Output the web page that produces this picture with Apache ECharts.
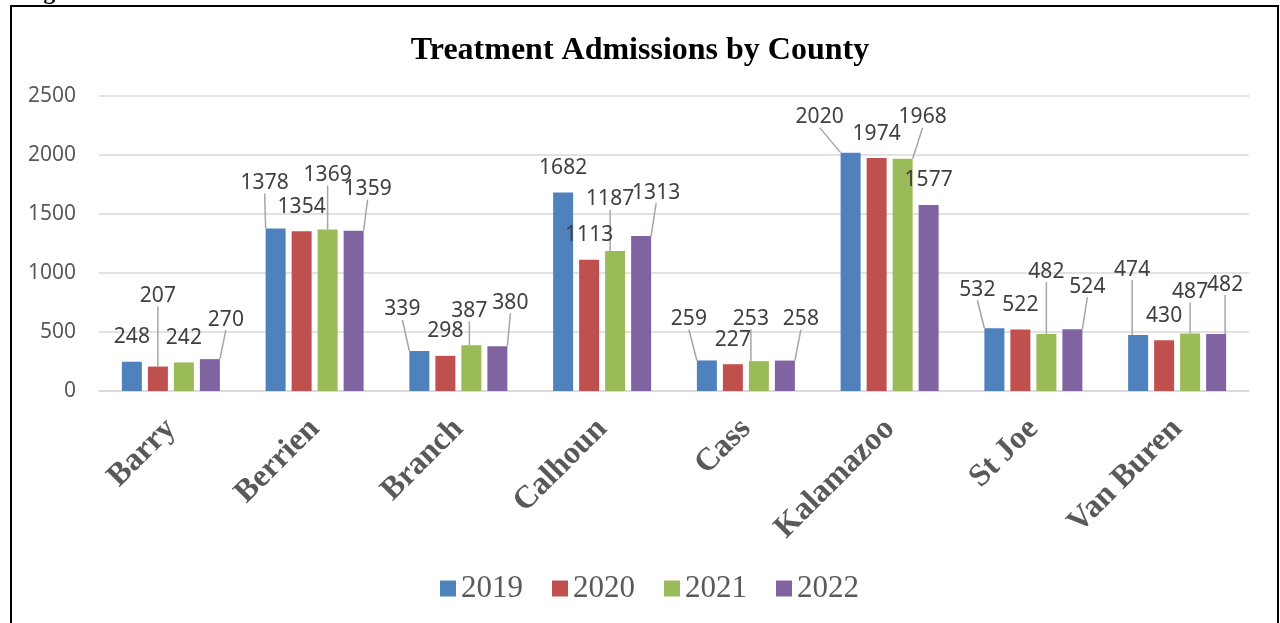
<!DOCTYPE html>
<html>
<head>
<meta charset="utf-8">
<script src="https://cdn.jsdelivr.net/npm/echarts@6/dist/echarts.min.js"></script>
<style>
html,body{margin:0;padding:0;background:#fff;}
#chart{width:1280px;height:623px;}
</style>
</head>
<body>
<div id="chart"></div>
<script>
var categories = ['Barry','Berrien','Branch','Calhoun','Cass','Kalamazoo','St Joe','Van Buren'];
var seriesNames = ['2019','2020','2021','2022'];
var y2019 = [248,1378,339,1682,259,2020,532,474];
var y2020 = [207,1354,298,1113,227,1974,522,430];
var y2021 = [242,1369,387,1187,253,1968,482,487];
var y2022 = [270,1359,380,1313,258,1577,524,482];
var yTicks = [0,500,1000,1500,2000,2500];

// label nudges (pixels) relative to the default "top" label position
var off2019 = [[0,0],[-11,-21],[-17,-17],[0,0],[-18,-17],[-31,-11],[-17,-14],[-6,-41]];
var off2020 = [[0,-46],[0,0],[0,0],[0,0],[0,0],[0,0],[0,0],[0,0]];
var off2021 = [[0,0],[0,-30],[-2,-10],[-5,-27],[-8,-18],[20,-17],[0,-38],[0,-17]];
var off2022 = [[16,-15],[14,-17],[13,-19],[15,-19],[16,-17],[0,0],[15,-18],[9,-25]];

var colors = ['#4f81bd','#c0504d','#9bbb59','#8064a2'];
var allValues = [y2019,y2020,y2021,y2022];
var allOffsets = [off2019,off2020,off2021,off2022];

var chart = echarts.init(document.getElementById('chart'), null, {renderer:'canvas'});

var series = allValues.map(function(vals, si){
  var offs = allOffsets[si];
  return {
    name: seriesNames[si],
    type: 'bar',
    barWidth: 20,
    barGap: '30%',
    itemStyle: {color: colors[si]},
    data: vals.map(function(v, i){
      var moved = offs[i][0] !== 0 || offs[i][1] !== 0;
      return {value: v, labelLine: {show: moved}};
    }),
    label: {
      show: true,
      position: 'top',
      distance: 14,
      color: '#404040',
      fontSize: 21,
      fontFamily: "'Noto Sans', 'Open Sans', sans-serif"
    },
    labelLine: {
      show: true,
      lineStyle: {color: '#a6a6a6', width: 1.5}
    },
    labelLayout: function(params){
      var o = offs[params.dataIndex];
      return {dx: o[0], dy: o[1]};
    }
  };
});

var option = {
  animation: false,
  backgroundColor: '#ffffff',
  title: {
    text: 'Treatment Admissions by County',
    left: 'center',
    top: 30,
    textStyle: {
      fontFamily: "'Liberation Serif', 'Times New Roman', serif",
      fontWeight: 'bold',
      fontSize: 32,
      color: '#000000'
    }
  },
  legend: {
    data: seriesNames,
    left: 440,
    top: 573,
    padding: 0,
    itemWidth: 16,
    itemHeight: 16,
    itemGap: 29,
    icon: 'rect',
    textStyle: {
      fontFamily: "'Liberation Serif', 'Times New Roman', serif",
      fontSize: 31,
      color: '#595959'
    }
  },
  grid: {left: 99, right: 31, top: 96, bottom: 232, containLabel: false},
  xAxis: {
    type: 'category',
    data: categories,
    axisLine: {show: true, lineStyle: {color: '#d9d9d9', width: 1.5}},
    axisTick: {show: false},
    axisLabel: {
      interval: 0,
      rotate: 45,
      margin: 33,
      color: '#595959',
      fontFamily: "'Liberation Serif', 'Times New Roman', serif",
      fontWeight: 'bold',
      fontSize: 32
    }
  },
  yAxis: {
    type: 'value',
    min: yTicks[0],
    max: yTicks[yTicks.length-1],
    interval: 500,
    axisLine: {show: false},
    axisTick: {show: false},
    splitLine: {lineStyle: {color: '#d9d9d9', width: 1.5}},
    axisLabel: {
      margin: 23,
      color: '#595959',
      fontSize: 21,
      fontFamily: "'Noto Sans', 'Open Sans', sans-serif",
      formatter: function(v){ return String(v); }
    }
  },
  graphic: [
    {
      type: 'rect',
      shape: {x: 11, y: 6, width: 1267, height: 700},
      style: {fill: 'none', stroke: '#000000', lineWidth: 2},
      silent: true,
      z: 100
    },
    {
      type: 'text',
      left: 22,
      top: -19,
      style: {
        text: 'Figure 6:',
        font: "bold 24px 'Liberation Serif', 'Times New Roman', serif",
        fill: '#000000'
      },
      silent: true
    }
  ],
  series: series
};

chart.setOption(option);
</script>
</body>
</html>
